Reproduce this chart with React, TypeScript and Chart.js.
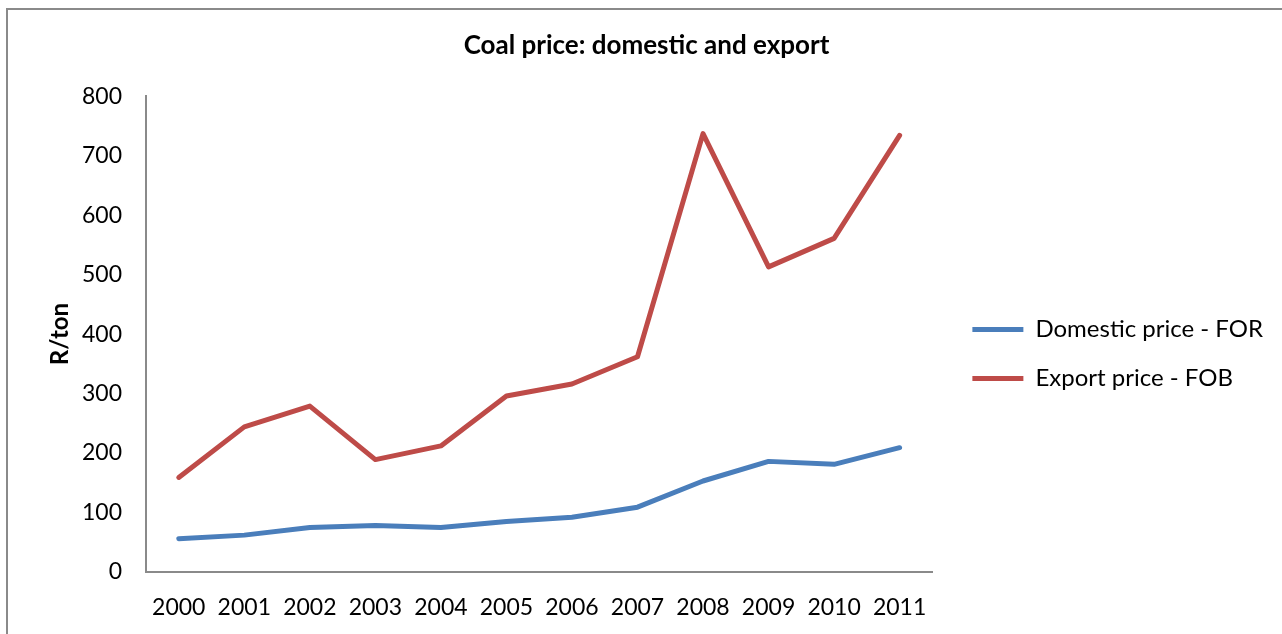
import React, { useEffect, useRef } from 'react';
import { Chart, registerables } from 'chart.js';

Chart.register(...registerables);

const years = ['2000', '2001', '2002', '2003', '2004', '2005', '2006', '2007', '2008', '2009', '2010', '2011'];
const domesticPrice = [56, 62, 75, 78, 75, 85, 92, 109, 153, 186, 181, 209];
const exportPrice = [159, 244, 279, 189, 212, 296, 316, 362, 737, 513, 561, 734];
const seriesLabels = ['Domestic price - FOR', 'Export price - FOB'];
const yMin = 0;
const yMax = 800;
const yStep = 100;
const chartTitle = 'Coal price: domestic and export';
const yTitle = 'R/ton';

const FONT = 'Lato';

const borderPlugin = {
  id: 'outerBorder',
  beforeDraw(chart: any) {
    const ctx = chart.ctx;
    ctx.save();
    ctx.fillStyle = '#ffffff';
    ctx.fillRect(0, 0, chart.width, chart.height);
    ctx.strokeStyle = '#8a8a8a';
    ctx.lineWidth = 2;
    ctx.strokeRect(7, 9, chart.width + 50, chart.height + 50);
    ctx.restore();
  },
};

export default function App() {
  const ref = useRef<HTMLCanvasElement | null>(null);

  useEffect(() => {
    document.body.style.margin = '0';
    const canvas = ref.current;
    if (!canvas) return;
    const chart = new Chart(canvas, {
      type: 'line',
      data: {
        labels: years,
        datasets: [
          {
            label: seriesLabels[0],
            data: domesticPrice,
            borderColor: '#4A7EBB',
            backgroundColor: '#4A7EBB',
            borderWidth: 5,
            pointRadius: 0,
            pointHoverRadius: 0,
            tension: 0,
            borderJoinStyle: 'round',
            borderCapStyle: 'round',
            yAxisID: 'y',
          },
          {
            label: seriesLabels[1],
            data: exportPrice,
            borderColor: '#BE4B48',
            backgroundColor: '#BE4B48',
            borderWidth: 5,
            pointRadius: 0,
            pointHoverRadius: 0,
            tension: 0,
            borderJoinStyle: 'round',
            borderCapStyle: 'round',
            yAxisID: 'y',
          },
        ],
      },
      options: {
        responsive: false,
        animation: false,
        devicePixelRatio: 1,
        layout: { padding: { left: 20, right: 9, top: 0, bottom: 0 } },
        plugins: {
          tooltip: { enabled: false },
          title: {
            display: true,
            text: chartTitle,
            color: '#000000',
            font: { family: FONT, size: 26, weight: 'bold' },
            padding: { top: 30, bottom: 35 },
          },
          legend: {
            display: true,
            position: 'right',
            fullSize: false,
            align: 'center',
            maxWidth: 420,
            title: { display: true, text: '', padding: { top: 28, bottom: 0 }, font: { size: 10 } },
            labels: {
              usePointStyle: true,
              pointStyle: 'line',
              pointStyleWidth: 51,
              padding: 25,
              color: '#000000',
              font: { family: FONT, size: 24 },
            },
          },
        },
        scales: {
          x: {
            type: 'category',
            offset: true,
            grid: { display: false, drawTicks: false, offset: true },
            border: { display: true, color: '#8a8a8a', width: 2 },
            ticks: {
              color: '#000000',
              font: { family: FONT, size: 23 },
              padding: 22,
              maxRotation: 0,
              autoSkip: false,
            },
            afterFit: (s: any) => {
              s.height = 62;
            },
          },
          y: {
            type: 'linear',
            position: 'left',
            min: yMin,
            max: yMax,
            grid: { display: false, drawTicks: false },
            border: { display: true, color: '#8a8a8a', width: 2 },
            ticks: {
              stepSize: yStep,
              color: '#000000',
              font: { family: FONT, size: 23 },
              padding: 24,
            },
            title: {
              display: true,
              text: yTitle,
              color: '#000000',
              font: { family: FONT, size: 24, weight: 'bold' },
              padding: { top: 26, bottom: 0 },
            },
            afterFit: (s: any) => {
              s.width = 126;
            },
          },
          gap: {
            type: 'linear',
            position: 'right',
            display: true,
            grid: { display: false, drawTicks: false },
            border: { display: false },
            ticks: { display: false },
            afterFit: (s: any) => {
              s.width = 15;
            },
          },
        },
      },
      plugins: [borderPlugin],
    } as any);
    return () => chart.destroy();
  }, []);

  return (
    <div style={{ position: 'absolute', left: 0, top: 0 }}>
      <canvas ref={ref} width={1282} height={634} style={{ display: 'block', width: 1282, height: 634 }} />
    </div>
  );
}
